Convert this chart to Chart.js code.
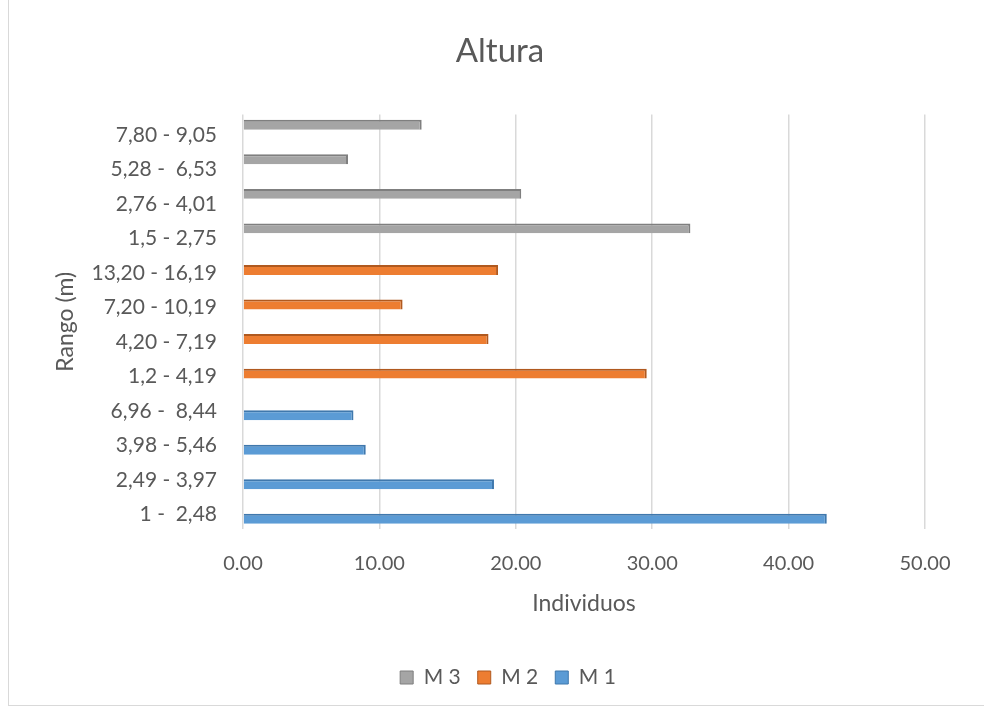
<!DOCTYPE html>
<html>
<head>
<meta charset="utf-8">
<script src="https://cdn.jsdelivr.net/npm/chart.js@4.4.1/dist/chart.umd.min.js"></script>
<style>
  html, body { margin: 0; padding: 0; background: #ffffff; }
  #wrap { position: relative; width: 984px; height: 713px; overflow: hidden; }
  #frame { position: absolute; left: 8px; top: -2px; width: 990px; height: 708px;
           border-left: 1px solid #d9d9d9; border-bottom: 1px solid #d9d9d9; box-sizing: border-box; }
  canvas { position: absolute; left: 0; top: 0; }
</style>
</head>
<body>
<div id="wrap">
  <div id="frame"></div>
  <canvas id="chart" width="984" height="713"></canvas>
</div>
<script>
// Height ranges (m), listed from the bottom of the axis upwards
const categories = [
  '1 -  2,48', '2,49 - 3,97', '3,98 - 5,46', '6,96 -  8,44',
  '1,2 - 4,19', '4,20 - 7,19', '7,20 - 10,19', '13,20 - 16,19',
  '1,5 - 2,75', '2,76 - 4,01', '5,28 -  6,53', '7,80 - 9,05'
];

// Individuals per range for each sample
const m1Values = [42.8, 18.4, 9.0, 8.1, null, null, null, null, null, null, null, null];
const m2Values = [null, null, null, null, 29.6, 18.0, 11.7, 18.7, null, null, null, null];
const m3Values = [null, null, null, null, null, null, null, null, 32.8, 20.4, 7.7, 13.1];

const seriesNames = ['M 3', 'M 2', 'M 1'];
const xTicks = [0, 10, 20, 30, 40, 50];

const FONT = 'Lato, "Open Sans", sans-serif';
const TEXT = '#595959';

function barSet(label, data, fill, edge) {
  return {
    label, data,
    backgroundColor: fill,
    borderColor: edge,
    borderWidth: { top: 2, right: 2, bottom: 0, left: 0 },
    borderSkipped: 'start',
    categoryPercentage: 0.616,
    barPercentage: 1.4
  };
}

// nudge the legend a little to the right of the canvas centre
const legendShift = {
  id: 'legendShift',
  afterLayout(chart) {
    if (chart.legend) {
      chart.legend.left += 8;
      chart.legend.right += 8;
    }
  }
};

new Chart(document.getElementById('chart'), {
  type: 'bar',
  data: {
    labels: categories,
    datasets: [
      barSet(seriesNames[0], m3Values, '#a5a5a5', '#7f7f7f'),
      barSet(seriesNames[1], m2Values, '#ed7d31', '#b0591f'),
      barSet(seriesNames[2], m1Values, '#5b9bd5', '#3f78ad')
    ]
  },
  plugins: [legendShift],
  options: {
    indexAxis: 'y',
    responsive: false,
    animation: false,
    layout: { padding: { left: 16, right: 0, top: 0, bottom: 15 } },
    scales: {
      x: {
        type: 'linear',
        min: xTicks[0],
        max: xTicks[xTicks.length - 1],
        afterBuildTicks: (s) => { s.ticks = xTicks.map(v => ({ value: v })); },
        afterFit: (s) => { s.height = 121; },
        grid: { color: '#d9d9d9', lineWidth: 1.5, drawTicks: false },
        border: { display: false },
        ticks: {
          padding: 23,
          color: TEXT,
          font: { family: FONT, size: 20 },
          callback: (v) => Number(v).toFixed(2)
        },
        title: {
          display: true,
          text: 'Individuos',
          color: TEXT,
          font: { family: FONT, size: 23 },
          padding: { top: 0, bottom: 33 }
        }
      },
      y: {
        type: 'category',
        reverse: true,
        afterFit: (s) => { s.width = 227; },
        grid: { display: false, drawTicks: false },
        border: { display: false },
        ticks: {
          padding: 26,
          labelOffset: 3,
          color: TEXT,
          font: { family: FONT, size: 21 }
        },
        title: {
          display: true,
          text: 'Rango (m)',
          color: TEXT,
          font: { family: FONT, size: 23 },
          padding: { top: 36, bottom: 0 }
        }
      },
      yRight: {
        type: 'category',
        position: 'right',
        display: true,
        afterFit: (s) => { s.width = 59; },
        grid: { display: false, drawTicks: false },
        border: { display: false },
        ticks: { display: false }
      }
    },
    plugins: {
      title: {
        display: true,
        text: 'Altura',
        color: TEXT,
        font: { family: FONT, size: 33, weight: 'normal' },
        padding: { top: 32, bottom: 43 }
      },
      legend: {
        position: 'bottom',
        labels: {
          boxWidth: 13,
          boxHeight: 13,
          padding: 17,
          color: TEXT,
          font: { family: FONT, size: 21 }
        }
      },
      tooltip: { enabled: false }
    }
  }
});
</script>
</body>
</html>
